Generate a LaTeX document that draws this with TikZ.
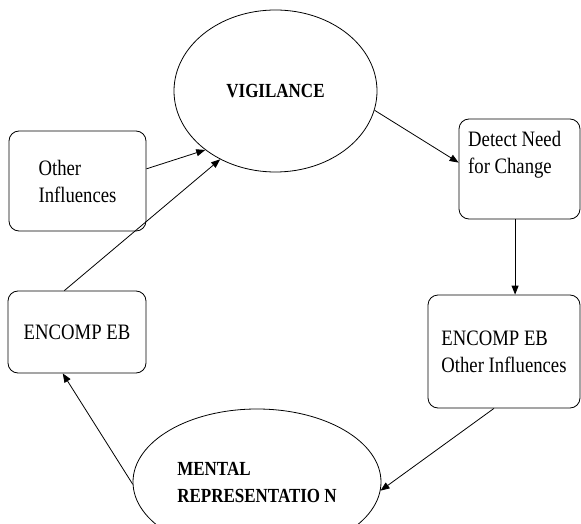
\documentclass[tikz,border=0pt]{standalone}
\usepackage{fontspec}
\setmainfont{Liberation Serif}[FakeStretch=0.85]
\usetikzlibrary{arrows.meta,shapes.geometric}

\begin{document}
\begin{tikzpicture}[x=1pt, y=-1pt,
    box/.style={draw, line width=0.8pt, rounded corners=10pt, inner sep=0pt},
    oval/.style={draw, line width=0.8pt, ellipse, inner sep=0pt},
    txt/.style={font=\fontsize{22}{27}\selectfont, align=left},
    bold/.style={font=\fontsize{20}{27}\selectfont\bfseries, align=left},
    arr/.style={line width=0.8pt, -{Triangle[length=9pt, width=7pt]}}]
  \clip (0,0) rectangle (581,524);
  % Ovals
  \node[oval, bold, minimum width=203, minimum height=162] (vig) at (275.5,91) {VIGILANCE};
  \node[oval, bold, minimum width=248, minimum height=146] (mental) at (257,482) {MENTAL\\REPRESENTATIO N};
  % Boxes
  \node[box, txt, minimum width=137, minimum height=100] (other) at (77.5,181) {Other\\Influences};
  \node[box, minimum width=121, minimum height=100] (detect) at (519.5,169) {};
  \node[txt, inner sep=0pt, anchor=north west] (detecttxt) at (468,131) {Detect Need\\for Change};
  \node[box, txt, minimum width=138, minimum height=82] (enc) at (77,332) {ENCOMP EB};
  \node[box, txt, minimum width=152, minimum height=113] (encoth) at (504,351.5) {ENCOMP EB\\Other Influences};

  % Cycle
  \draw[arr] (other.10) -- (vig.220);
  \draw[arr] (enc.107) -- (vig.231);
  \draw[arr] (vig.-11) -- (detect.174);
  \draw[arr] (detect.265) -- (detect.265 |- encoth.north);
  \draw[arr] (encoth.260) -- (mental.-4);
  \draw[arr] (mental.181) -- (enc.251);
\end{tikzpicture}
\end{document}
